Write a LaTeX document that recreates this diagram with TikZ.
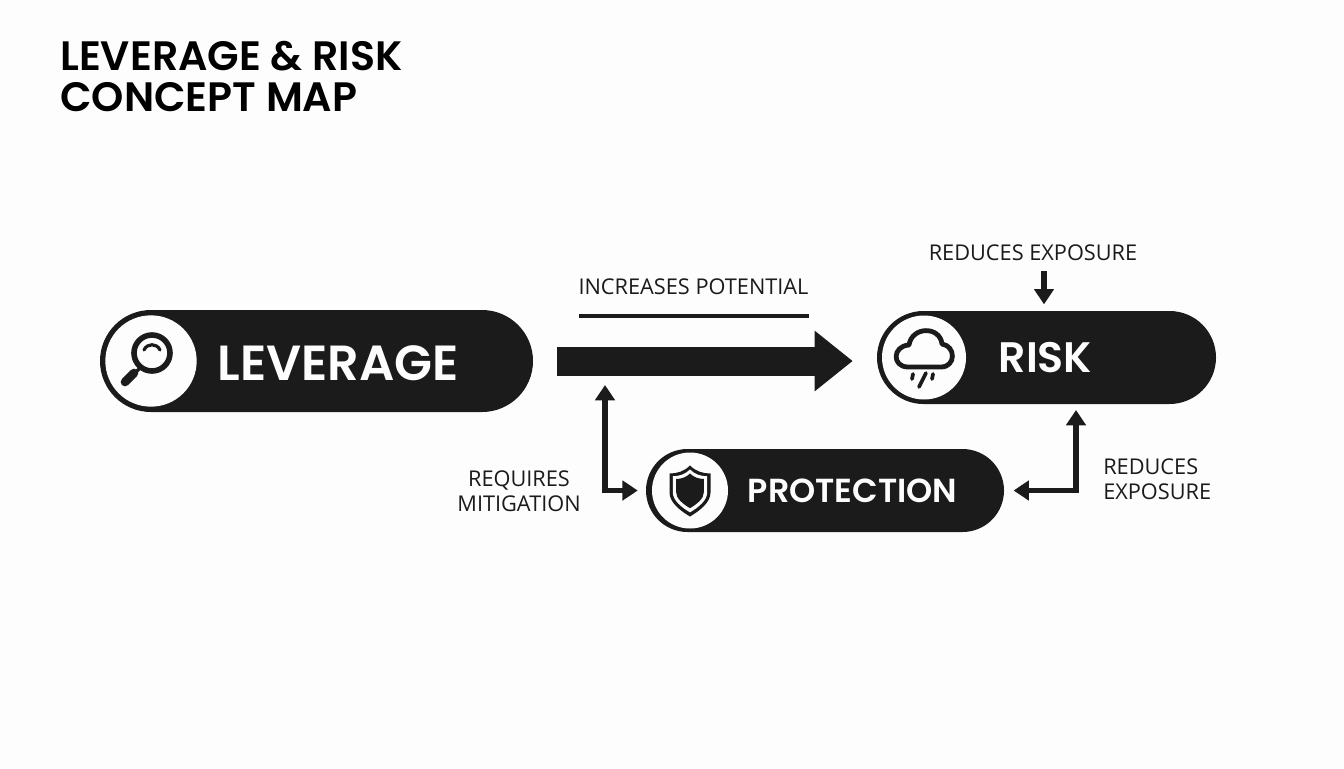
\documentclass[tikz,border=0pt]{standalone}
\usepackage{fontspec}
\setmainfont{Poppins}[BoldFont={Poppins SemiBold}]
\newfontfamily\labelfont{Open Sans}
\usetikzlibrary{positioning, shapes.misc, arrows.meta}
\definecolor{pillblack}{HTML}{1B1B1B}
\definecolor{paperwhite}{HTML}{FDFDFD}

\begin{document}
\begin{tikzpicture}[x=0.75pt, y=-0.75pt]
		\tikzstyle{pill}=[rounded rectangle, draw=none, fill=pillblack, inner sep=0pt]
		\tikzstyle{badge}=[circle, draw=none, fill=paperwhite, inner sep=0pt]
		\tikzstyle{pilltext}=[text=paperwhite, font=\bfseries, inner sep=0pt]
		\tikzstyle{smalltext}=[text=pillblack, font=\labelfont\fontsize{16.3}{18.7}\selectfont, inner sep=0pt]
		\tikzstyle{titletext}=[text=black, font=\bfseries\fontsize{30.8}{30.7}\selectfont, inner sep=0pt, align=left]
		\tikzstyle{thinarrow}=[draw=pillblack, line width=3.8pt, {Triangle[length=11.5pt, width=14.5pt]}-{Triangle[length=11.5pt, width=14.5pt]}]
		\tikzstyle{iconline}=[draw=pillblack, line cap=round]
		
		\fill[paperwhite] (0,0) rectangle (1344,768);
		\useasboundingbox (0,0) rectangle (1344,768);
		
		\node[titletext, anchor=west] (title) at (60,76.5) {LEVERAGE \& RISK\\CONCEPT MAP};
		
		%% the three pills
		\node[pill, minimum width=324.75pt, minimum height=76.5pt] (leverage) at (316.5,361) {};
		\node[pill, minimum width=254.25pt, minimum height=69.75pt] (risk) at (1046.5,357.5) {};
		\node[pill, minimum width=268.5pt, minimum height=62.25pt] (protection) at (825,490.5) {};
		
		\node[badge, minimum size=68.5pt] (levbadge) at (151,361) {};
		\node[badge, minimum size=63pt] (riskbadge) at (924,357.5) {};
		\node[badge, minimum size=57pt] (probadge) at (690,490.5) {};
		
		\node[pilltext, font=\bfseries\fontsize{37}{41}\selectfont] (levtext) at (338,363) {LEVERAGE};
		\node[pilltext, font=\bfseries\fontsize{32}{36}\selectfont] (risktext) at (1045.5,358) {RISK};
		\node[pilltext, font=\bfseries\fontsize{25}{29}\selectfont] (protext) at (852.5,491) {PROTECTION};
		
		%% magnifier
		\draw[iconline, line width=4.2pt] (152,353) circle (18);
		\draw[iconline, line width=2.4pt] (141,367) -- (134,374);
		\draw[iconline, line width=6.5pt] (134,373) -- (125,382);
		\draw[iconline, line width=2.4pt] (144,350) .. controls (147,343) and (157,343) .. (160,350);
		
		%% cloud and rain
		\draw[iconline, line width=3.6pt, line join=round] (908,367) .. controls (892,367) and (892,346) .. (909,345) .. controls (912,326) and (940,326) .. (942,344) .. controls (956,346) and (956,367) .. (941,367) -- cycle;
		\draw[iconline, line width=2.8pt] (926,373) -- (919,387);
		\foreach \x in {913,933}
		\draw[iconline, line width=2.8pt] (\x,374) -- (\x-1,379);
		
		%% shield, three layers
		\foreach \shieldscale/\shieldcolor in {1/pillblack, 0.84/paperwhite, 0.68/pillblack}
		\fill[\shieldcolor, shift={(690,490.5)}, scale=\shieldscale] (0,-25) .. controls (6,-19) and (13,-17) .. (20.5,-17) -- (20.5,2) .. controls (20.5,12) and (10,20) .. (0,26) .. controls (-10,20) and (-20.5,12) .. (-20.5,2) -- (-20.5,-17) .. controls (-13,-17) and (-6,-19) .. (0,-25) -- cycle;
		
		%% labels
		\node[smalltext] (labelpotential) at (693.5,286.5) {INCREASES POTENTIAL};
		\node[smalltext] (labelabove) at (1033,252.5) {REDUCES EXPOSURE};
		\node[smalltext, align=center] (labelmitigation) at (519,491) {REQUIRES\\MITIGATION};
		\node[smalltext, align=left, anchor=west] (labelexposure) at (1103,479) {REDUCES\\EXPOSURE};
		
		\coordinate (ruleleft) at (579,316);
		\coordinate (ruleright) at (809,316);
		\draw[pillblack, line width=3pt] (ruleleft) -- (ruleright);
		
		%% big arrow
		\draw[pillblack, line width=21.75pt, -{Triangle[length=28.5pt, width=43.5pt]}, shorten <=18pt, shorten >=18pt] (leverage.east) -- (leverage.east -| risk.west);
		
		%% small arrows
		\coordinate (riskin) at (1044,311);
		\draw[draw=pillblack, line width=3.8pt, -{Triangle[length=11.5pt, width=14.5pt]}, shorten <=8pt, shorten >=5pt] (labelabove.south -| riskin) -- (riskin);
		
		\coordinate (bigfoot) at (605,377);
		\coordinate (riskfoot) at (1076,404);
		\draw[thinarrow, shorten <=6pt, shorten >=6pt] (bigfoot) |- (protection.west);
		\draw[thinarrow, shorten <=4.5pt, shorten >=7pt] (riskfoot) |- (protection.east);
\end{tikzpicture}
\end{document}
